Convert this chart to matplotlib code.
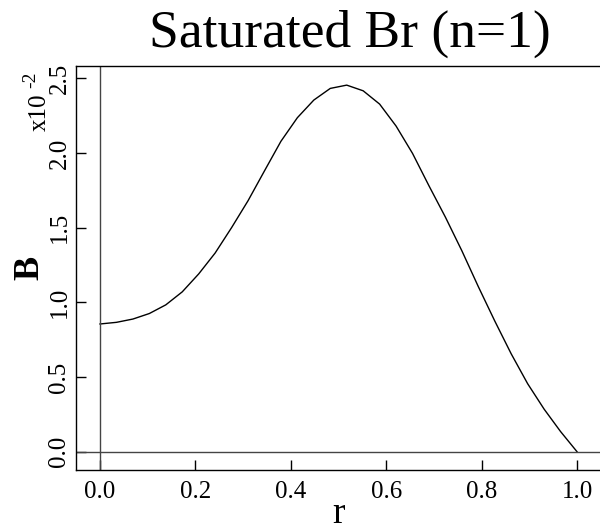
import matplotlib
matplotlib.use("Agg")
import matplotlib.pyplot as plt
import numpy as np

plt.rcParams['font.family'] = ['Liberation Serif', 'DejaVu Serif']

# Data (B in units of 1e-2), r on a 30-point grid from 0 to 1
r = np.arange(30) / 29.0
B = [0.855, 0.866, 0.888, 0.925, 0.983, 1.07, 1.19, 1.33, 1.50, 1.68,
     1.88, 2.078, 2.236, 2.354, 2.432, 2.454, 2.416, 2.327, 2.180, 1.997,
     1.780, 1.570, 1.345, 1.105, 0.875, 0.655, 0.455, 0.285, 0.135, 0.0]
xticks = [0.0, 0.2, 0.4, 0.6, 0.8, 1.0]
yticks = [0.0, 0.5, 1.0, 1.5, 2.0, 2.5]

W, H = 600, 532
fig = plt.figure(figsize=(6, 5.32), dpi=100)
ax = fig.add_axes([76 / W, 62 / H, 524 / W, 404 / H])

ax.plot(r, B, color='black', lw=1.0)
ax.axhline(0, color='#444444', lw=1.0)
ax.axvline(0, color='#444444', lw=1.0)

ax.set_xlim(-0.0503, 1.0482)
ax.set_ylim(-0.1225, 2.582)
ax.set_xticks(xticks)
ax.set_xticklabels([f"{v:.1f}" for v in xticks])
ax.set_yticks(yticks)
ax.set_yticklabels([f"{v:.1f}" for v in yticks], rotation=90, va='center')
ax.tick_params(direction='in', length=7, width=1, labelsize=18, colors='black')
ax.tick_params(axis='x', pad=8)
ax.tick_params(axis='y', pad=4)
ax.spines['right'].set_visible(False)
for s in ['left', 'bottom', 'top']:
    ax.spines[s].set_linewidth(1.0)

fig.text(350 / W, 1 - 47 / H, 'Saturated Br (n=1)', fontsize=38.5,
         ha='center', va='baseline')
fig.text(339 / W, 1 / H, 'r', fontsize=27, ha='center', va='bottom')
fig.text(29.5 / W, 1 - 268 / H, 'B', fontsize=26, fontweight='bold',
         rotation=90, ha='center', va='center')
fig.text(40 / W, 1 - 131 / H, 'x10', fontsize=18,
         rotation=90, ha='center', va='bottom')
fig.text(31 / W, 1 - 88 / H, '-2', fontsize=14,
         rotation=90, ha='center', va='bottom')

fig.savefig('out.png', dpi=100)
